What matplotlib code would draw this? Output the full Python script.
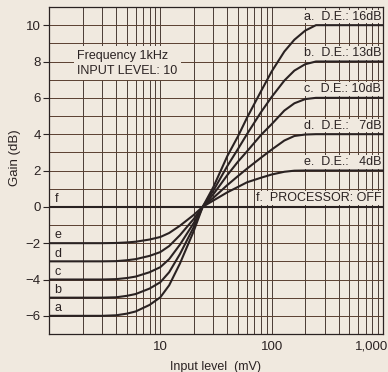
"""Gain vs input level plot for the dynamic expander (D.E.) settings
"""

import matplotlib.pyplot as plt
from matplotlib.ticker import FixedLocator, NullFormatter
from matplotlib.transforms import ScaledTranslation

# Data
input_mv = [1, 3, 4, 5, 6, 8, 10, 12, 15, 20, 24, 30, 40, 50, 60, 80, 100, 130, 160, 200, 250, 1000]
gain_a = [-6, -6, -5.97, -5.88, -5.76, -5.4, -4.98, -4.32, -3.12, -1.32, 0, 1.1, 2.8, 3.9, 4.9, 6.35, 7.45, 8.55, 9.2, 9.7, 10, 10]
gain_b = [-5, -5, -4.98, -4.9, -4.8, -4.5, -4.15, -3.6, -2.6, -1.1, 0, 0.9, 2.25, 3.2, 4.0, 5.2, 6.05, 6.95, 7.5, 7.85, 8, 8]
gain_c = [-4, -4, -3.98, -3.92, -3.84, -3.6, -3.32, -2.88, -2.08, -0.88, 0, 0.7, 1.75, 2.5, 3.05, 3.95, 4.55, 5.3, 5.7, 5.93, 6, 6]
gain_d = [-3, -3, -2.99, -2.94, -2.88, -2.7, -2.49, -2.16, -1.56, -0.66, 0, 0.5, 1.2, 1.7, 2.1, 2.7, 3.15, 3.65, 3.9, 3.98, 4, 4]
gain_e = [-2, -2, -1.99, -1.96, -1.92, -1.8, -1.66, -1.44, -1.04, -0.44, 0, 0.35, 0.8, 1.1, 1.35, 1.6, 1.78, 1.93, 1.99, 2, 2, 2]
gain_f = [0] * len(input_mv)

curves = [gain_a, gain_b, gain_c, gain_d, gain_e, gain_f]
letters = ['a', 'b', 'c', 'd', 'e', 'f']
right_labels = ['a.  D.E.: 16dB', 'b.  D.E.: 13dB', 'c.  D.E.: 10dB',
                'd.  D.E.:   7dB', 'e.  D.E.:   4dB', 'f.  PROCESSOR: OFF']
floor_levels = [-6, -5, -4, -3, -2, 0]
top_levels = [10, 8, 6, 4, 2, 0]

x_ticks = [10, 100, 1000]
x_tick_labels = ['10', '100', '1,000']
y_ticks = [-6, -4, -2, 0, 2, 4, 6, 8, 10]

# Colours
bg = '#f0e9df'
ink = '#2a2222'
grid_col = '#4a3b34'

plt.rcParams['font.family'] = ['Liberation Sans', 'DejaVu Sans']

fig = plt.figure(figsize=(3.88, 3.72), dpi=100, facecolor=bg)
ax = fig.add_axes([49 / 388, 1 - 334 / 372, (383 - 49) / 388, (334 - 7) / 372])
ax.set_facecolor(bg)

ax.set_xscale('log')
ax.set_xlim(1, 1000)
ax.set_ylim(-7, 11)

# Grid: every 1-9 per decade and every 1 dB
minor_x = [m * 10 ** k for k in range(0, 3) for m in range(2, 10)]
ax.xaxis.set_major_locator(FixedLocator(x_ticks))
ax.xaxis.set_minor_locator(FixedLocator(minor_x))
ax.xaxis.set_minor_formatter(NullFormatter())
ax.set_xticklabels(x_tick_labels)
ax.yaxis.set_major_locator(FixedLocator(y_ticks))
ax.yaxis.set_minor_locator(FixedLocator(range(-7, 12)))
ax.grid(True, which='both', axis='x', color=grid_col, lw=0.7)
ax.grid(True, which='both', axis='y', color='#5a3f30', lw=0.7)
ax.set_axisbelow(True)

ax.tick_params(axis='x', which='both', length=0, pad=5, labelsize=9.5, colors=ink)
ax.tick_params(axis='y', which='major', length=4, width=0.8, pad=2, labelsize=9.5, colors=ink)
ax.tick_params(axis='y', which='minor', length=0)
for s in ax.spines.values():
    s.set_color(ink)
    s.set_linewidth(0.9)

# Shift "1,000" so it ends at the right edge
last = ax.get_xticklabels()[-1]
last.set_horizontalalignment('right')
last.set_transform(last.get_transform() + ScaledTranslation(4 / 72, 0, fig.dpi_scale_trans))

# Curves
for g in curves:
    ax.plot(input_mv, g, color=ink, lw=1.5, solid_capstyle='butt', zorder=3)

# Letters on the left and labels on the right
for letter, lo in zip(letters, floor_levels):
    ax.text(1.12, lo + 0.1, letter, fontsize=9, color=ink, ha='left', va='bottom', zorder=4)

for lbl, hi in zip(right_labels, top_levels):
    ax.text(0.995, hi + 0.14, lbl, transform=ax.get_yaxis_transform(), fontsize=9,
            color=ink, ha='right', va='bottom', zorder=4,
            bbox=dict(facecolor=bg, edgecolor='none', pad=0.6))

ax.text(1.8, 7.9, 'Frequency 1kHz\nINPUT LEVEL: 10', fontsize=9, color=ink,
        ha='left', va='center', linespacing=1.35, zorder=4,
        bbox=dict(facecolor=bg, edgecolor='none', pad=2.5))

ax.set_xlabel('Input level  (mV)', fontsize=9, color=ink, labelpad=6)
ax.set_ylabel('Gain (dB)', fontsize=9.5, color=ink)
ax.yaxis.set_label_coords(-0.085, 0.54)

fig.savefig('out.png', dpi=100, facecolor=bg)
